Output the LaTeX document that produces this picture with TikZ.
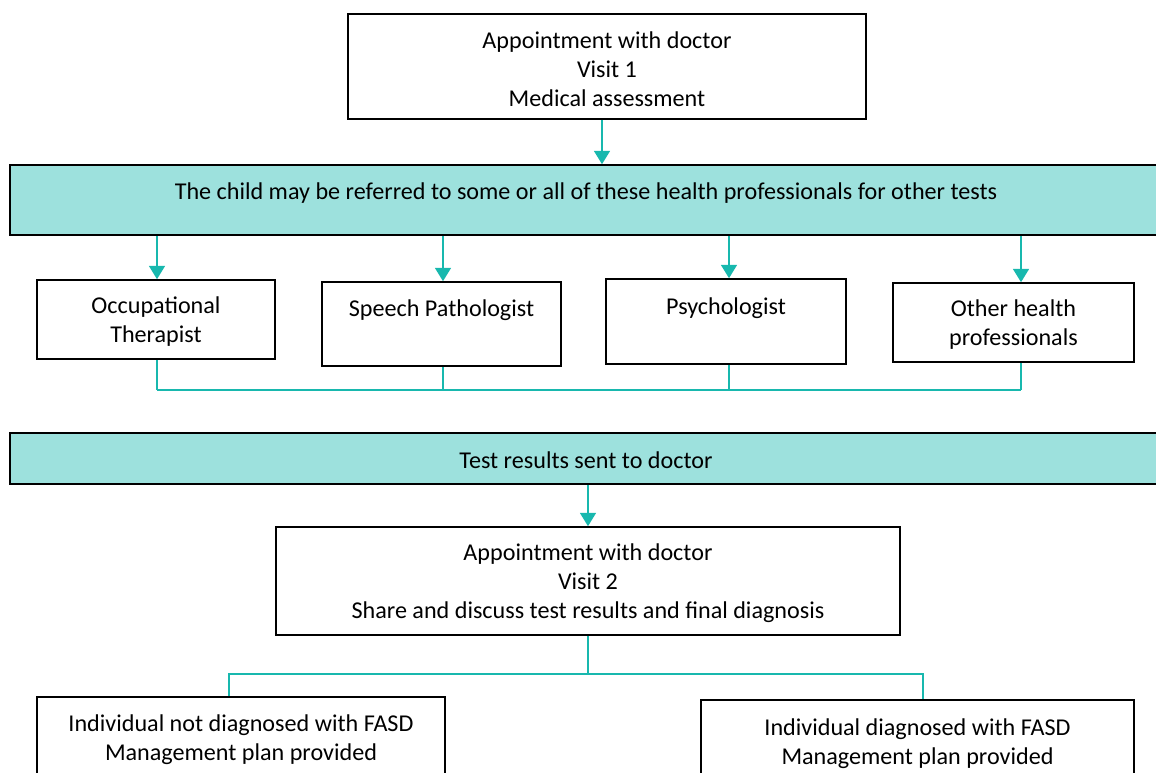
\documentclass[tikz,border=0pt]{standalone}
\usepackage{fontspec}
\setmainfont{Carlito}
\usepackage{tikz}
\usetikzlibrary{arrows.meta,positioning}
\definecolor{tealline}{RGB}{24,184,174}
\definecolor{tealfill}{RGB}{157,225,221}
\newcommand{\topgap}{\rule{0pt}{16pt}}

\begin{document}
\begin{tikzpicture}[x=0.75pt,y=-0.75pt,>={Triangle[width=12pt,length=10pt]},
    font=\fontsize{18.1}{21.75}\selectfont]
  \tikzstyle{box}=[rectangle,draw=black,line width=1.2pt,fill=white,
                   align=center,inner sep=0pt]
  \tikzstyle{band}=[rectangle,draw=black,line width=1.2pt,fill=tealfill,
                    minimum width=1152*0.75pt,inner sep=0pt]
  \tikzstyle{arr}=[->,draw=tealline,line width=1.1pt,color=tealline]
  \tikzstyle{link}=[draw=tealline,line width=1.1pt]

  \useasboundingbox (0,0) rectangle (1156,773);
  \clip (0,0) rectangle (1156,773);

  % first visit
  \node [box,minimum width=518*0.75pt,minimum height=105*0.75pt] (visit1) at (607,66.5)
    {\topgap Appointment with doctor\\Visit 1\\Medical assessment};
  \node [band,text height=35*0.75pt,text depth=35*0.75pt] (refer) at (586,200)
    {The child may be referred to some or all of these health professionals for other tests};

  % health professionals
  \node [box,minimum width=238*0.75pt,minimum height=79*0.75pt] (ot) at (156,319.5)
    {\topgap Occupational\\Therapist};
  \node [box,minimum width=239*0.75pt,text height=35*0.75pt,text depth=49*0.75pt] (speech) at (441.5,324)
    {Speech Pathologist};
  \node [box,minimum width=240*0.75pt,text height=36*0.75pt,text depth=49*0.75pt] (psych) at (726,321.5)
    {Psychologist};
  \node [box,minimum width=241*0.75pt,minimum height=79*0.75pt] (other) at (1013.5,322.5)
    {\topgap Other health\\professionals};

  \node [band,text height=35*0.75pt,text depth=16*0.75pt] (results) at (586,458.5)
    {Test results sent to doctor};

  % second visit
  \node [box,minimum width=624*0.75pt,minimum height=108*0.75pt] (visit2) at (588,581)
    {\topgap Appointment with doctor\\Visit 2\\Share and discuss test results and final diagnosis};
  \node [box,minimum width=408*0.75pt,minimum height=81*0.75pt] (notdx) at (241,737.5)
    {\topgap Individual not diagnosed with FASD\\Management plan provided};
  \node [box,minimum width=433*0.75pt,minimum height=83*0.75pt] (dx) at (917.5,741.5)
    {\topgap Individual diagnosed with FASD\\Management plan provided};

  % where the teal lines run
  \coordinate (c1) at (602,0);
  \coordinate (a1) at (157,0);
  \coordinate (a2) at (443,0);
  \coordinate (a3) at (729,0);
  \coordinate (a4) at (1021,0);
  \coordinate (bus) at (0,390);
  \coordinate (split) at (0,674);
  \coordinate (l) at (229,674);
  \coordinate (r) at (923,674);

  \draw [arr] (c1 |- visit1.south) -- (c1 |- refer.north);
  \draw [arr] (a1 |- refer.south) -- (a1 |- ot.north);
  \draw [arr] (a2 |- refer.south) -- (a2 |- speech.north);
  \draw [arr] (a3 |- refer.south) -- (a3 |- psych.north);
  \draw [arr] (a4 |- refer.south) -- (a4 |- other.north);

  \draw [link] (a1 |- ot.south) -- (a1 |- bus);
  \draw [link] (a2 |- speech.south) -- (a2 |- bus);
  \draw [link] (a3 |- psych.south) -- (a3 |- bus);
  \draw [link] (a4 |- other.south) -- (a4 |- bus);
  \draw [link] (a1 |- bus) -- (a4 |- bus);

  \draw [arr] (results.south -| visit2.south) -- (visit2.north);
  \draw [link] (visit2.south) -- (visit2.south |- split);
  \draw [link] (l |- notdx.north) -- (l) -- (r) -- (r |- dx.north);
\end{tikzpicture}
\end{document}
